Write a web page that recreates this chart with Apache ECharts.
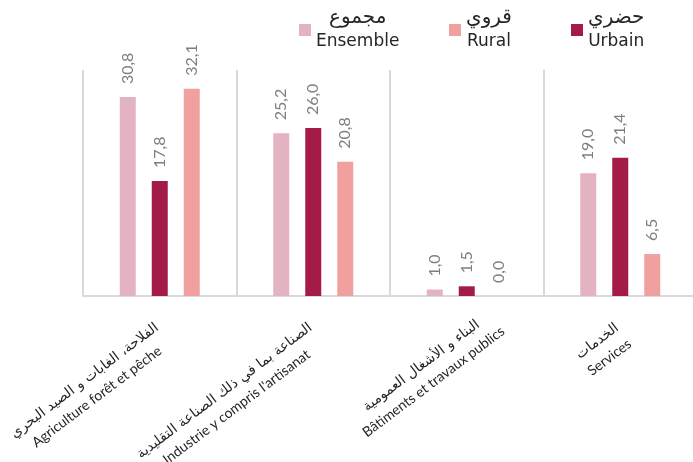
<!DOCTYPE html>
<html>
<head>
<meta charset="utf-8">
<script src="https://cdn.jsdelivr.net/npm/echarts@6/dist/echarts.min.js"></script>
<style>
html,body{margin:0;padding:0;background:#fff;}
#chart{width:693px;height:462px;}
</style>
</head>
<body>
<div id="chart"></div>
<script>
const categoriesFr = ["Agriculture forêt et pêche", "Industrie y compris l'artisanat", "Bâtiments et travaux publics", "Services"];
const categoriesAr = ["الفلاحة، الغابات و الصيد البحري", "الصناعة بما في ذلك الصناعة التقليدية", "البناء و الأشغال العمومية", "الخدمات"];
const seriesNames = ["Ensemble", "Urbain", "Rural"];
const seriesNamesAr = {"Ensemble": "مجموع", "Urbain": "حضري", "Rural": "قروي"};
const ensemble = [30.8, 25.2, 1.0, 19.0];
const urbain = [17.8, 26.0, 1.5, 21.4];
const rural = [32.1, 20.8, 0.0, 6.5];

const colors = {"Ensemble": "#e4b3c2", "Urbain": "#a31b46", "Rural": "#f0a09f"};
const seriesData = {"Ensemble": ensemble, "Urbain": urbain, "Rural": rural};
// per-category label padding (the reference's third label sits further along its slant)
const labelPadding = [[22, 4, 0, 0], [22, 4, 0, 0], [34, -25, 0, 0], [22, 4, 0, 0]];

const chart = echarts.init(document.getElementById('chart'), null, {renderer: 'canvas'});

function legendAt(name, left) {
  return {
    data: [name],
    left: left,
    top: 8,
    padding: 0,
    icon: 'rect',
    itemWidth: 12,
    itemHeight: 12,
    selectedMode: false,
    formatter: n => '{ar|' + seriesNamesAr[n] + '}\n{fr|' + n + '}',
    textStyle: {
      rich: {
        ar: {align: 'center', fontFamily: 'DejaVu Sans', fontSize: 20, lineHeight: 24, color: '#262626'},
        fr: {align: 'center', fontFamily: 'DejaVu Sans', fontSize: 17, lineHeight: 24, color: '#262626'}
      }
    }
  };
}

const option = {
  animation: false,
  backgroundColor: '#ffffff',
  legend: [legendAt('Ensemble', 299), legendAt('Rural', 449), legendAt('Urbain', 571)],
  grid: {left: 83, top: 70, width: 614, height: 226, containLabel: false, outerBoundsMode: 'none'},
  xAxis: {
    type: 'category',
    data: categoriesFr.map((c, i) => ({value: c, textStyle: {padding: labelPadding[i]}})),
    boundaryGap: true,
    axisLine: {show: true, lineStyle: {color: '#d9d9d9', width: 2}},
    axisTick: {show: false},
    splitLine: {show: true, lineStyle: {color: '#d9d9d9', width: 2}},
    axisLabel: {
      interval: 0,
      rotate: 37,
      margin: 27,
      padding: [22, 4, 0, 0],
      formatter: (value, index) => '{ar|' + categoriesAr[index] + '}\n{fr|' + value + '}',
      rich: {
        ar: {align: 'center', fontFamily: 'DejaVu Sans', fontSize: 14, lineHeight: 20, color: '#262626'},
        fr: {align: 'center', fontFamily: 'Lato', fontSize: 14, lineHeight: 20, color: '#262626'}
      }
    }
  },
  yAxis: {
    type: 'value',
    min: 0,
    max: 35,
    show: false,
    splitLine: {show: false}
  },
  series: seriesNames.map(name => ({
    name: name,
    type: 'bar',
    data: seriesData[name],
    barWidth: 16,
    barGap: '100%',
    itemStyle: {color: colors[name]},
    label: {
      show: true,
      position: 'top',
      rotate: 90,
      align: 'left',
      verticalAlign: 'middle',
      distance: 13,
      fontFamily: 'Lato',
      fontSize: 16,
      color: '#7f7f7f',
      formatter: p => p.value.toFixed(1).replace('.', ',')
    }
  }))
};
chart.setOption(option);
</script>
</body>
</html>
